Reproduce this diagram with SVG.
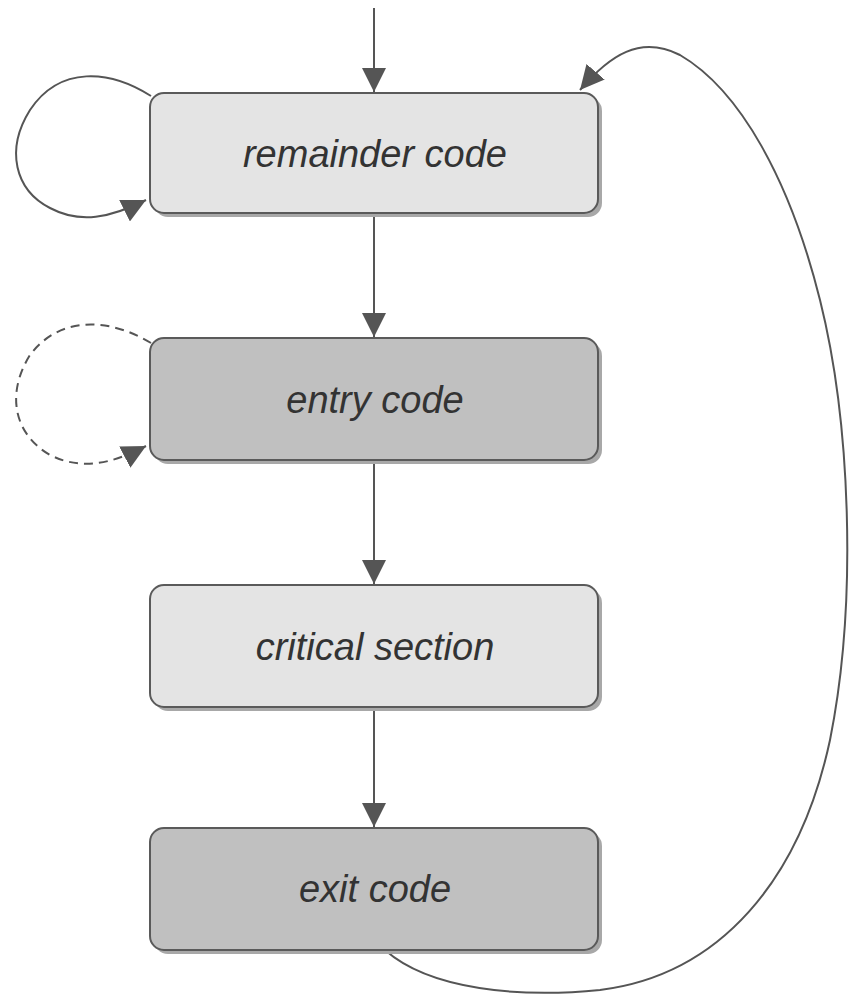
<svg xmlns="http://www.w3.org/2000/svg" width="850" height="998" viewBox="0 0 850 998">
<style>
.box{stroke:#5a5a5a;stroke-width:2}
.light{fill:#e4e4e4}
.dark{fill:#c0c0c0}
.shadow{fill:#a8a8a8}
.lbl{font-family:"Liberation Sans",Arial,sans-serif;font-style:italic;font-size:38px;fill:#333;text-anchor:middle}
.edge{fill:none;stroke:#555;stroke-width:2}
.dash{stroke-dasharray:9 6}
</style>
<defs>
<marker id="ahl" viewBox="0 0 10 10" refX="10" refY="5" markerWidth="24" markerHeight="24" markerUnits="userSpaceOnUse" orient="auto">
<path d="M0,0 L10,5 L0,10 z" fill="#555"/>
</marker>
</defs>
<g id="connectors">
<path class="edge" d="M374,8 L374,92" marker-end="url(#ahl)"/>
<path class="edge" d="M374,214 L374,337" marker-end="url(#ahl)"/>
<path class="edge" d="M374,461 L374,584" marker-end="url(#ahl)"/>
<path class="edge" d="M374,708 L374,827" marker-end="url(#ahl)"/>
<path class="edge" d="M151,96 C110,70 60,65 30,110 C5,150 15,190 50,208 C80,224 110,218 146,200" marker-end="url(#ahl)"/>
<path class="edge dash" d="M151,343 C110,318 60,315 30,355 C5,395 15,435 50,455 C80,470 110,465 146,446" marker-end="url(#ahl)"/>
<path class="edge" d="M385,950 C430,990 520,998 600,990 C720,975 800,880 830,740 C858,600 850,420 820,300 C790,180 740,90 680,55 C640,35 610,55 580,90" marker-end="url(#ahl)"/>
</g>
<g id="remainder">
<rect class="shadow" x="154" y="97" width="448" height="120" rx="14"/>
<rect class="box light" x="150" y="93" width="448" height="120" rx="14"/>
<text class="lbl" x="375" y="167">remainder code</text>
</g>
<g id="entry">
<rect class="shadow" x="154" y="342" width="448" height="122" rx="14"/>
<rect class="box dark" x="150" y="338" width="448" height="122" rx="14"/>
<text class="lbl" x="375" y="413">entry code</text>
</g>
<g id="critical">
<rect class="shadow" x="154" y="589" width="448" height="122" rx="14"/>
<rect class="box light" x="150" y="585" width="448" height="122" rx="14"/>
<text class="lbl" x="375" y="660">critical section</text>
</g>
<g id="exit">
<rect class="shadow" x="154" y="832" width="448" height="122" rx="14"/>
<rect class="box dark" x="150" y="828" width="448" height="122" rx="14"/>
<text class="lbl" x="375" y="902">exit code</text>
</g>
</svg>
